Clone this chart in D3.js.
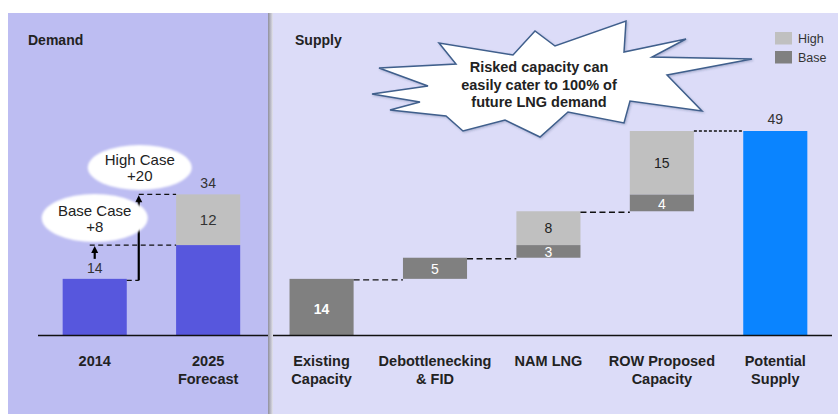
<!DOCTYPE html>
<html>
<head>
<meta charset="utf-8">
<script src="https://cdn.jsdelivr.net/npm/d3@7"></script>
<style>
  html, body { margin: 0; padding: 0; background: #ffffff; }
  svg { display: block; font-family: "Liberation Sans", Arial, sans-serif; }
</style>
</head>
<body>
<svg id="chart" width="838" height="414"></svg>
<script>
// Categories along the shared x axis (line breaks marked with \n)
const demandCategories = ["2014", "2025\nForecast"];
const supplyCategories = ["Existing\nCapacity", "Debottlenecking\n& FID", "NAM LNG", "ROW Proposed\nCapacity", "Potential\nSupply"];

// Demand (mtpa): 2014 actual, 2025 base forecast and the extra high-case increment
const demand2014 = 14;
const demand2025Base = 22;
const demand2025HighExtra = 12;
const baseCaseIncrease = 8;
const highCaseIncrease = 20;

// Supply waterfall steps (the last category is the running total)
const supplyBase = [14, 5, 3, 4];
const supplyHigh = [0, 0, 8, 15];
const potentialSupply = 49;

// Legend
const legendItems = ["High", "Base"];

const colors = {
  demandPanel: "#bdbdf2",
  supplyPanel: "#dcdcf8",
  demandBar: "#5757dd",
  high: "#c0c0c0",
  base: "#808080",
  total: "#0a84ff",
  text: "#222222"
};

const svg = d3.select("#chart");
const W = 838, H = 414;
const axisY = 335.5;

const categories = demandCategories.concat(supplyCategories);
const x = d3.scaleBand().domain(categories).range([38, 832]).paddingInner(0.435).paddingOuter(0.2175);
const y = d3.scaleLinear().domain([0, potentialSupply]).range([338, 131]);

const defs = svg.append("defs");
const grad = defs.append("linearGradient").attr("id", "panelShadow").attr("x1", 0).attr("x2", 1).attr("y1", 0).attr("y2", 0);
grad.append("stop").attr("offset", "0%").attr("stop-color", "#8f8f9c");
grad.append("stop").attr("offset", "100%").attr("stop-color", "#e4e4ee");
const soft = defs.append("filter").attr("id", "soft").attr("x", "-10%").attr("y", "-10%").attr("width", "120%").attr("height", "120%");
soft.append("feGaussianBlur").attr("stdDeviation", 0.8);
const shadow = defs.append("filter").attr("id", "starShadow").attr("x", "-10%").attr("y", "-10%").attr("width", "120%").attr("height", "130%");
shadow.append("feDropShadow").attr("dx", 1).attr("dy", 1).attr("stdDeviation", 0.8).attr("flood-color", "#30406a").attr("flood-opacity", 0.3);

// Panels
svg.append("rect").attr("x", 8).attr("y", 13).attr("width", 260).attr("height", H - 13).attr("fill", colors.demandPanel);
svg.append("rect").attr("x", 273).attr("y", 13).attr("width", W - 273).attr("height", H - 13).attr("fill", colors.supplyPanel);

svg.append("text").attr("x", 28).attr("y", 45).attr("font-size", 14).attr("font-weight", "bold").attr("fill", colors.text).text("Demand");
svg.append("text").attr("x", 295).attr("y", 45).attr("font-size", 14).attr("font-weight", "bold").attr("fill", colors.text).text("Supply");

const bw = x.bandwidth();
const barBottom = v => Math.min(y(v), axisY);

function bar(cat, v0, v1, fill) {
  svg.append("rect")
    .attr("x", x(cat)).attr("width", bw)
    .attr("y", y(v1)).attr("height", barBottom(v0) - y(v1))
    .attr("fill", fill);
}
function valueLabel(cat, py, text, fill, size, weight) {
  svg.append("text")
    .attr("x", x(cat) + bw / 2).attr("y", py)
    .attr("text-anchor", "middle").attr("dominant-baseline", "central")
    .attr("font-size", size).attr("font-weight", weight || "normal")
    .attr("fill", fill).text(text);
}
function dashed(x1, x2, yy, dash) {
  svg.append("line").attr("x1", x1).attr("x2", x2).attr("y1", yy).attr("y2", yy)
    .attr("stroke", "#111").attr("stroke-width", 1.3).attr("stroke-dasharray", dash || "5,3.5");
}

// ---- Demand side ----
const c2014 = demandCategories[0], c2025 = demandCategories[1];
const demand2025Total = demand2025Base + demand2025HighExtra;
bar(c2014, 0, demand2014, colors.demandBar);
bar(c2025, 0, demand2025Base, colors.demandBar);
bar(c2025, demand2025Base, demand2025Total, colors.high);
valueLabel(c2014, y(demand2014) - 11, String(demand2014), "#333", 14);
valueLabel(c2025, y(demand2025Total) - 11, String(demand2025Total), "#333", 14);
valueLabel(c2025, (y(demand2025Base) + y(demand2025Total)) / 2, String(demand2025HighExtra), "#333", 15);

// High-case arrow and connectors
const arrowX = x(c2014) + bw + 12;
const smallArrowX = x(c2014) + bw / 2;
dashed(x(c2014) + bw, arrowX, y(demand2014) + 1.5);
dashed(smallArrowX - 5, x(c2025), y(demand2014 + baseCaseIncrease));
dashed(arrowX, x(c2025), y(demand2014 + highCaseIncrease));

function arrow(ax, yFrom, yTo, w) {
  svg.append("line").attr("x1", ax).attr("x2", ax).attr("y1", yFrom).attr("y2", yTo + 5)
    .attr("stroke", "#000").attr("stroke-width", w);
  svg.append("path")
    .attr("d", `M${ax - 3.5},${yTo + 7} L${ax},${yTo} L${ax + 3.5},${yTo + 7} Z`)
    .attr("fill", "#000");
}
arrow(arrowX, y(demand2014) + 1.5, y(demand2014 + highCaseIncrease) + 1, 2.2);
arrow(smallArrowX, y(demand2014) - 20, y(demand2014 + baseCaseIncrease) + 1, 2.2);

// Case bubbles
const bubbles = [
  { cx: arrowX + 1, cy: 167.5, rx: 52, ry: 22.5, lines: ["High Case", "+" + highCaseIncrease] },
  { cx: smallArrowX, cy: 218, rx: 53, ry: 24, lines: ["Base Case", "+" + baseCaseIncrease] }
];
bubbles.forEach(b => {
  svg.append("ellipse").attr("cx", b.cx).attr("cy", b.cy).attr("rx", b.rx).attr("ry", b.ry)
    .attr("fill", "#ffffff").attr("filter", "url(#soft)");
  b.lines.forEach((t, i) => {
    svg.append("text").attr("x", b.cx).attr("y", b.cy - 8 + i * 16)
      .attr("text-anchor", "middle").attr("dominant-baseline", "central")
      .attr("font-size", 15).attr("fill", colors.text).text(t);
  });
});

// ---- Supply waterfall ----
let running = 0;
const steps = supplyBase.map((b, i) => {
  const s = { cat: supplyCategories[i], start: running, baseEnd: running + b, end: running + b + supplyHigh[i] };
  running = s.end;
  return s;
});
steps.forEach(s => {
  bar(s.cat, s.start, s.baseEnd, colors.base);
  if (s.end > s.baseEnd) bar(s.cat, s.baseEnd, s.end, colors.high);
});
const totalCat = supplyCategories[supplyCategories.length - 1];
bar(totalCat, 0, potentialSupply, colors.total);

steps.forEach((s, i) => {
  const baseV = supplyBase[i];
  const mid = (y(s.start) + y(s.baseEnd)) / 2;
  const big = i === 0;
  valueLabel(s.cat, big ? y(s.baseEnd) + 30 : mid + 1, String(baseV), "#ffffff", 14, big ? "bold" : "normal");
  if (supplyHigh[i] > 0) {
    valueLabel(s.cat, (y(s.baseEnd) + y(s.end)) / 2, String(supplyHigh[i]), "#222", 14);
  }
});
valueLabel(totalCat, y(potentialSupply) - 12, String(potentialSupply), "#333", 14);

// Connectors between consecutive waterfall bars
steps.forEach((s, i) => {
  const next = supplyCategories[i + 1];
  const isLast = i === steps.length - 1;
  dashed(x(s.cat) + bw, x(next), y(s.end) + (isLast ? 0 : 1), isLast ? "3,2" : "6,3.5");
});

// Axis baseline, drawn per panel
svg.append("line").attr("x1", 38).attr("x2", 268).attr("y1", axisY).attr("y2", axisY).attr("stroke", "#111").attr("stroke-width", 1.3);
svg.append("line").attr("x1", 273).attr("x2", 832).attr("y1", axisY).attr("y2", axisY).attr("stroke", "#111").attr("stroke-width", 1.3);

// Panel divider shadow
svg.append("rect").attr("x", 268).attr("y", 13).attr("width", 5).attr("height", H - 13).attr("fill", "url(#panelShadow)");

// Category labels
categories.forEach(c => {
  const t = svg.append("text").attr("text-anchor", "middle")
    .attr("font-size", 14.5).attr("font-weight", "bold").attr("fill", colors.text);
  c.split("\n").forEach((line, i) => {
    t.append("tspan").attr("x", x(c) + bw / 2).attr("y", 366 + i * 18).text(line);
  });
});

// Legend
const legend = svg.append("g");
legendItems.forEach((name, i) => {
  legend.append("rect").attr("x", 775).attr("y", 32 + i * 19).attr("width", 17).attr("height", 12.5)
    .attr("fill", name === "High" ? colors.high : colors.base);
  legend.append("text").attr("x", 798).attr("y", 38.5 + i * 19).attr("dominant-baseline", "central")
    .attr("font-size", 12.5).attr("fill", "#333").text(name);
});

// Callout burst
const burst = [
  [372, 94], [428, 86], [379, 68], [456, 64], [439, 43], [513, 55], [535, 31], [555, 46],
  [626, 21], [624, 52], [686, 39], [652, 57], [752, 59], [667, 75], [702, 111], [630, 101],
  [624, 123], [568, 112], [540, 137], [505, 120], [463, 131], [446, 116], [390, 110], [420, 102]
];
svg.append("path")
  .attr("d", d3.line()(burst) + "Z")
  .attr("fill", "#ffffff").attr("stroke", "#3f5f8c").attr("stroke-width", 1.5)
  .attr("stroke-linejoin", "miter").attr("filter", "url(#starShadow)");
["Risked capacity can", "easily cater to 100% of", "future LNG demand"].forEach((t, i) => {
  svg.append("text").attr("x", 539).attr("y", 67 + i * 17.5)
    .attr("text-anchor", "middle").attr("dominant-baseline", "central")
    .attr("font-size", 14.5).attr("font-weight", "bold").attr("fill", colors.text).text(t);
});
</script>
</body>
</html>
